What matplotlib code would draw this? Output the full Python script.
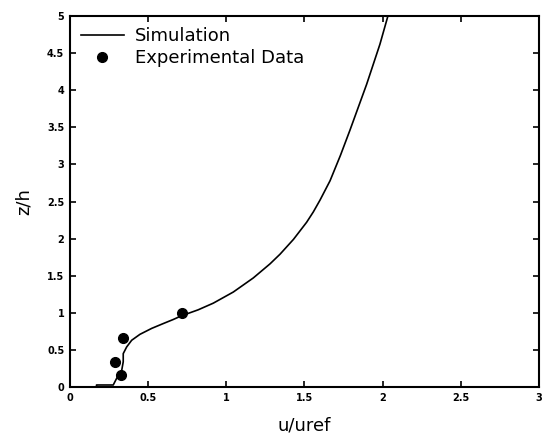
import matplotlib.pyplot as plt

# simulated velocity profile
sim_u = [0.0, 0.17, 0.17, 0.277, 0.299, 0.33, 0.341, 0.341, 0.363, 0.395, 0.448,
         0.523, 0.597, 0.661, 0.714, 0.82, 0.917, 1.045, 1.173, 1.28, 1.344,
         1.43, 1.514, 1.557, 1.60, 1.664, 1.73, 1.791, 1.898, 1.983, 2.03, 2.04]
sim_z = [0.0, 0.0, 0.027, 0.027, 0.117, 0.21, 0.34, 0.45, 0.54, 0.63, 0.71,
         0.79, 0.855, 0.91, 0.96, 1.04, 1.13, 1.28, 1.47, 1.66, 1.79,
         1.99, 2.22, 2.36, 2.52, 2.78, 3.12, 3.46, 4.08, 4.62, 4.97, 5.05]

# experimental points
exp_u = [0.324, 0.288, 0.337, 0.714]
exp_z = [0.16, 0.34, 0.66, 1.0]

xticks = [0, 0.5, 1, 1.5, 2, 2.5, 3]
yticks = [0, 0.5, 1, 1.5, 2, 2.5, 3, 3.5, 4, 4.5, 5]

fig = plt.figure(figsize=(5.55, 4.46), dpi=100)
ax = fig.add_axes([0.126, 0.1323, 0.845, 0.8317])

ax.plot(sim_u, sim_z, color='black', lw=1.2, label='Simulation')
ax.plot(exp_u, exp_z, 'o', color='black', markersize=7, label='Experimental Data')

ax.set_xlim(0, 3)
ax.set_ylim(0, 5)
ax.set_xticks(xticks)
ax.set_yticks(yticks)
ax.set_xticklabels([f'{t:g}' for t in xticks], fontsize=7, fontweight='bold')
ax.set_yticklabels([f'{t:g}' for t in yticks], fontsize=7, fontweight='bold')
ax.tick_params(direction='in', length=4, width=1.2, top=True, right=True, pad=4)
for s in ax.spines.values():
    s.set_linewidth(1.5)

ax.set_xlabel('u/uref', fontsize=13, labelpad=10)
ax.set_ylabel('z/h', fontsize=13, labelpad=10)

ax.legend(loc='upper left', frameon=False, fontsize=13, handlelength=2.4,
          handletextpad=0.6, borderaxespad=0.2, labelspacing=0.25)

fig.savefig('out.png', dpi=100)
